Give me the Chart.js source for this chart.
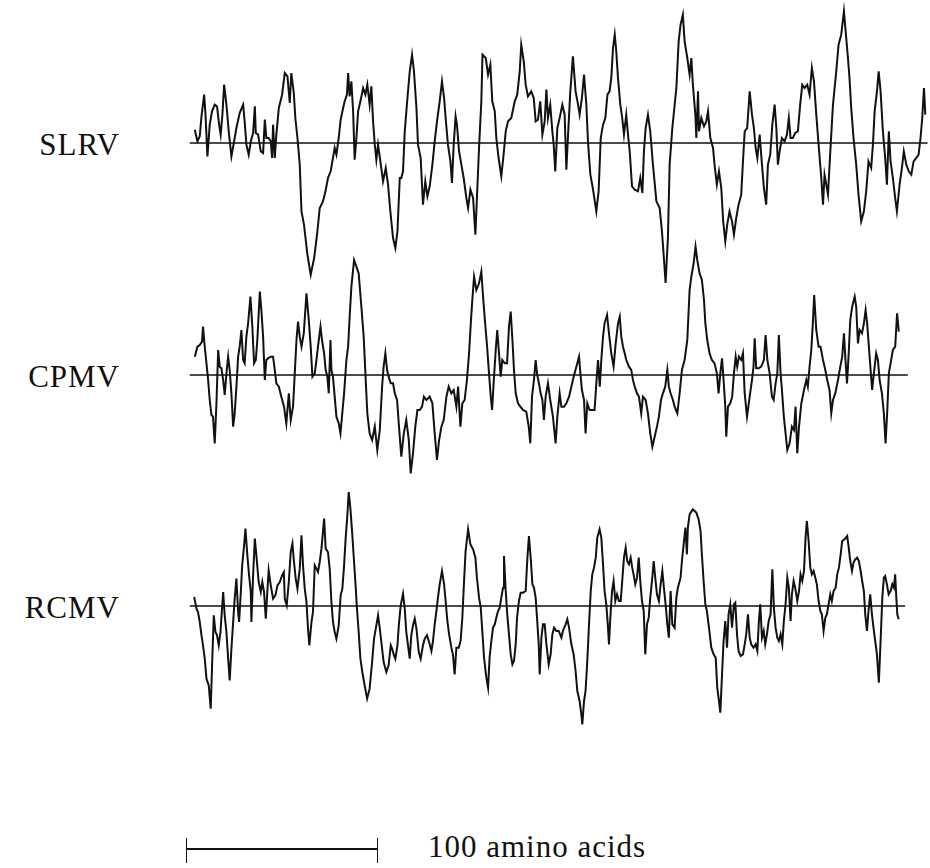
<!DOCTYPE html>
<html>
<head>
<meta charset="utf-8">
<script src="https://cdn.jsdelivr.net/npm/chart.js@4.4.1/dist/chart.umd.min.js"></script>
<style>
  html, body { margin: 0; padding: 0; background: #fff; }
  #page { position: relative; width: 930px; height: 868px; overflow: hidden; background: #fff; }
  .track { position: absolute; left: 189px; width: 739px; height: 294px; }
  .name { position: absolute; width: 120px; left: 0; text-align: right; font: 31px "Liberation Serif", "DejaVu Serif", serif; line-height: 31px; letter-spacing: 1px; color: #111; }
  #scaleText { position: absolute; left: 428px; top: 831px; font: 31px "Liberation Serif", "DejaVu Serif", serif; line-height: 31px; letter-spacing: 1px; color: #111; white-space: nowrap; }
  .bar { position: absolute; background: #111; }
</style>
</head>
<body>
<div id="page">
  <canvas id="cSLRV" class="track" width="739" height="294" style="top:-4px"></canvas>
  <canvas id="cCPMV" class="track" width="739" height="294" style="top:228px"></canvas>
  <canvas id="cRCMV" class="track" width="739" height="294" style="top:459px"></canvas>
  <div class="name" style="top:129px">SLRV</div>
  <div class="name" style="top:361px">CPMV</div>
  <div class="name" style="top:592px">RCMV</div>
  <div class="bar" style="left:186px; top:848px; width:192px; height:2px"></div>
  <div class="bar" style="left:186px; top:838px; width:1px; height:25px"></div>
  <div class="bar" style="left:377px; top:838px; width:1px; height:25px"></div>
  <div id="scaleText">100 amino acids</div>
</div>
<script>
// hydropathy profiles: [residue position, hydropathy]
var slrv = [[0,0.4],[1.4,0.05],[2.6,0.2],[3.5,0.8],[4.9,1.45],[5.6,0.85],[6.6,-0.4],[7.8,0.55],[9.0,0.95],[10.4,1.15],[11.6,1.1],[12.7,0.55],[13.5,0.25],[14.4,0.85],[15.3,1.75],[16.5,1.15],[17.7,0.35],[19.1,-0.4],[20.5,0.05],[21.7,0.45],[23.4,0.9],[25.2,1.15],[26.0,0.65],[26.9,-0.05],[28.1,-0.35],[29.2,0.05],[30.4,0.3],[31.3,1.1],[31.8,0.3],[33.0,0.25],[34.4,-0.25],[35.6,-0.3],[36.5,0.7],[37.3,0.15],[38.5,0.15],[39.6,0.05],[40.3,-0.45],[40.8,0.55],[41.7,-0.45],[42.5,0.25],[43.8,1.05],[45.5,1.45],[46.9,2.1],[48.3,2.0],[49.5,1.2],[50.3,2.1],[51.6,1.5],[52.4,0.75],[53.5,0.15],[54.7,-0.65],[55.6,-2.05],[56.9,-2.45],[58.7,-3.35],[60.4,-3.95],[62.2,-3.45],[63.9,-2.65],[65.1,-1.95],[66.8,-1.75],[68.1,-1.45],[69.4,-1.05],[70.8,-0.85],[72.0,-0.45],[72.9,-0.15],[73.8,-0.35],[75.0,0.15],[76.0,0.7],[77.3,1.05],[78.1,1.25],[79.3,1.45],[79.9,2.1],[80.7,1.4],[81.6,1.85],[82.5,0.95],[83.3,-0.5],[84.2,0.15],[85.1,0.95],[86.3,1.25],[87.7,1.65],[88.9,1.45],[89.9,1.75],[91.1,1.15],[92.0,1.7],[92.9,0.65],[93.8,-0.05],[94.6,-0.5],[95.5,-0.05],[96.7,-0.55],[98.1,-1.15],[99.5,-0.75],[100.7,-1.25],[101.9,-2.05],[103.3,-2.85],[104.5,-3.15],[105.6,-2.65],[106.8,-1.05],[107.6,-1.05],[108.5,-0.85],[109.4,0.35],[110.8,1.35],[112.0,2.15],[113.2,2.65],[114.2,2.15],[115.5,1.05],[116.3,-0.05],[117.7,-0.45],[118.9,-1.85],[120.1,-1.15],[121.2,-1.6],
  [122.4,-1.3],[123.8,-0.65],[125.0,0.05],[126.2,0.65],[127.6,1.25],[128.8,1.85],[129.9,1.35],[130.7,0.75],[131.9,-0.05],[133.2,-0.55],[134.0,-1.2],[134.9,-0.05],[135.9,0.8],[136.6,0.55],[137.7,-0.25],[138.9,-0.65],[140.1,-1.05],[141.5,-1.65],[142.4,-1.95],[143.6,-1.4],[145.0,-1.65],[146.2,-2.75],[147.0,-1.65],[148.1,-0.15],[149.3,1.25],[149.9,2.65],[151.6,2.55],[152.8,2.05],[154.0,2.35],[155.0,1.25],[156.3,0.95],[157.1,0.15],[158.3,-0.45],[159.7,-1.0],[160.9,-0.35],[162.0,0.35],[163.2,0.65],[164.9,0.75],[166.7,1.25],[168.0,1.45],[169.3,2.15],[170.1,2.95],[171.4,2.45],[172.4,1.75],[173.6,1.4],[175.3,1.55],[176.6,1.35],[177.6,0.65],[178.8,0.7],[180.0,1.25],[181.1,0.25],[182.3,0.65],[183.2,1.6],[184.0,0.75],[185.2,1.15],[186.3,0.35],[187.0,-0.05],[187.8,-0.85],[188.9,0.45],[190.1,0.75],[191.5,1.15],[192.7,0.85],[193.6,-0.8],[194.4,0.15],[195.6,1.5],[197.0,2.6],[198.4,1.55],[199.7,1.15],[200.5,0.85],[201.7,1.35],[202.8,2.05],[204.0,1.15],[204.9,0],[206.1,-0.95],[207.5,-1.4],[209.2,-2.05],[210.4,-1.45],[211.5,0.15],[212.7,0.55],[213.9,0.75],[215.0,1.45],[216.1,1.55],[217.0,1.95],[217.9,2.85],[218.8,3.25],[219.6,2.75],[220.5,1.95],[221.7,1.15],[222.7,0.75],[223.6,0.25],[224.8,0.85],[225.7,0.25],[226.6,-0.25],[227.8,-1.3],[229.2,-1.4],[230.9,-1.45],[232.1,-1.05],[233.2,-1.5],[234.0,-0.25],[234.9,0.45],[236.1,0.85],[237.3,0.35],[238.7,-0.65],[240.5,-1.75],[242.2,-1.95],[243.4,-2.65],[244.4,-3.45],[245.3,-4.2],[246.5,-2.85],[247.4,-0.65],[248.8,0.45],
  [250.9,1.65],[252.1,3.05],[253.1,3.55],[254.3,3.85],[255.2,3.05],[256.6,2.55],[257.8,2.05],[258.7,2.55],[259.5,1.75],[260.8,0.85],[261.3,0.15],[262.2,1.55],[262.7,0.35],[263.9,0.75],[265.3,0.5],[266.5,0.65],[267.4,0.95],[268.6,0.15],[270.0,-0.15],[270.8,-0.65],[272.0,-1.25],[273.1,-0.85],[274.3,-1.35],[275.3,-2.35],[276.4,-2.95],[277.4,-2.45],[278.6,-2.05],[279.9,-2.35],[280.9,-2.75],[282.1,-2.25],[283.3,-1.85],[284.7,-1.55],[285.6,-0.55],[286.5,0.35],[287.8,0.45],[289.1,1.55],[290.3,0.85],[291.3,0.45],[292.2,-0.15],[293.1,-0.45],[294.3,0.25],[295.5,-0.65],[296.5,-1.35],[297.7,-1.85],[298.6,-0.65],[299.8,-0.35],[300.9,0.55],[302.1,1.15],[303.0,0.45],[303.8,-0.65],[304.7,-0.25],[305.9,0.15],[307.3,0.05],[308.5,0.25],[309.5,0.75],[310.4,0.15],[311.6,0.15],[312.8,0.3],[314.2,0.35],[315.4,1.15],[316.5,1.75],[317.7,1.65],[319.1,1.75],[320.3,1.45],[321.5,2.25],[322.6,1.85],[323.8,0.85],[325.0,-0.05],[326.4,-1.05],[327.3,-1.85],[328.1,-0.95],[329.0,-1.25],[329.9,-1.55],[331.1,-0.25],[332.5,1.15],[334.2,2.15],[335.4,2.95],[336.8,3.25],[338.2,3.95],[339.4,3.15],[340.3,2.55],[341.1,1.95],[342.0,1.05],[343.2,0.15],[344.6,-0.65],[345.8,-1.55],[347.2,-2.35],[348.6,-2.05],[349.8,-1.45],[351.0,-0.55],[352.4,-0.75],[353.3,-0.05],[354.2,0.95],[355.4,1.55],[356.3,2.15],[357.3,1.55],[358.5,0.35],[359.7,-0.45],[360.6,-1.25],[361.6,0.35],[362.5,-0.55],[363.7,-1.05],[364.9,-1.65],[365.8,-2.05],[367.2,-1.25],[368.4,-0.75],[369.4,-0.25],[370.7,-0.65],[372.0,-0.85],[373.3,-0.95],[374.5,-0.55],[375.9,-0.45],[377.1,-0.35],[378.1,0.15],[379.0,0.75],[379.9,1.65],[380.6,0.85]];

var cpmv = [[0,0.55],[1.4,0.85],[2.6,0.9],[3.8,1.0],[4.3,1.45],[5.2,0.85],[6.1,0.35],[6.9,-0.1],[7.8,-0.75],[8.7,-1.2],[9.5,-1.25],[10.4,-2.05],[11.3,-0.85],[12.2,0.75],[13.0,0.25],[13.9,0.2],[14.8,-0.15],[15.6,-0.6],[16.5,0.05],[17.4,0.55],[18.2,0.15],[19.1,-0.55],[20.0,-1.55],[20.8,-1.15],[21.7,-0.35],[22.6,0.55],[23.4,0.85],[24.3,1.35],[25.2,0.45],[26.0,0.35],[26.9,1.15],[27.8,1.55],[29.0,2.35],[30.0,1.45],[30.9,0.35],[31.8,0.45],[32.6,1.05],[33.9,2.5],[34.7,1.95],[35.6,1.15],[36.5,-0.15],[37.3,0.45],[38.2,0.5],[39.6,0.55],[40.8,0.55],[41.7,0.15],[42.5,-0.25],[43.8,-0.35],[45.1,-0.65],[46.5,-0.95],[47.7,-1.45],[49.0,-0.55],[50.0,-1.35],[51.2,-0.95],[52.1,0.05],[53.0,1.05],[53.8,1.6],[54.7,1.15],[55.6,0.85],[56.8,1.25],[58.2,2.45],[59.4,1.65],[60.4,0.85],[61.3,-0.05],[62.5,0.05],[63.4,0.45],[64.2,0.85],[65.5,1.45],[66.3,1.05],[67.4,0.65],[68.2,0.15],[69.1,-0.05],[69.8,-0.55],[70.7,1.05],[71.2,0.15],[72.0,-0.05],[72.9,-0.65],[73.8,-1.25],[75.0,-1.45],[75.9,-1.75],[76.7,-1.25],[77.8,-0.55],[79.0,0.45],[79.9,0.85],[80.7,1.75],[81.6,2.65],[83.0,3.45],[84.2,3.25],[85.4,3.05],[86.8,2.05],[88.0,1.15],[88.9,0.05],[89.9,-1.15],[91.1,-1.75],[92.4,-1.95],[93.8,-1.55],[95.1,-2.25],[96.4,-1.65],[97.6,-0.35],[98.4,0.25],[99.3,0.65],[100.2,0.15],[101.0,-0.05],[102.1,-0.25],[103.3,-0.25],[104.2,-0.55],[105.4,-0.75],[106.4,-1.55],[107.6,-2.45],[108.9,-1.75],[110.2,-1.35],[111.5,-1.95],[112.5,-2.95],[113.7,-2.35],[114.9,-1.55],[116.0,-1.05],[117.2,-1.05],[118.4,-0.95],[119.4,-0.65],[120.7,-0.75],
  [122.4,-0.65],[123.8,-0.85],[125.0,-1.75],[126.2,-2.55],[127.3,-1.95],[128.5,-1.55],[129.7,-1.35],[131.1,-0.65],[132.3,-0.35],[133.7,-0.55],[134.9,-0.45],[136.3,-0.95],[137.2,-0.35],[138.4,-1.55],[139.4,-0.85],[140.6,-0.75],[141.8,-0.15],[142.9,0.65],[143.8,1.55],[144.6,2.25],[145.5,2.95],[146.7,2.55],[148.1,2.75],[149.3,3.1],[150.2,2.35],[151.0,1.75],[152.3,0.85],[153.3,0.05],[154.2,-0.65],[154.9,-1.05],[155.7,-0.25],[156.8,0.75],[157.6,1.35],[158.5,0.65],[159.4,-0.05],[160.2,0.45],[161.5,0.35],[162.7,0.35],[163.7,1.45],[164.6,1.9],[165.5,1.05],[166.3,0.15],[167.2,-0.55],[168.4,-0.85],[169.6,-0.95],[171.0,-1.05],[172.7,-1.1],[174.0,-1.55],[174.8,-2.05],[175.7,-0.65],[176.7,-0.15],[177.6,0.45],[178.3,0.05],[179.3,-0.25],[180.2,-0.55],[181.1,-0.75],[181.9,-1.35],[182.8,-0.65],[184.0,-0.25],[185.2,-0.75],[186.6,-1.25],[188.0,-2.05],[188.9,-1.25],[190.1,-0.55],[191.0,-0.95],[192.4,-0.95],[193.6,-0.85],[195.0,-0.65],[196.2,-0.35],[197.4,-0.05],[198.8,0.25],[200.2,0.55],[200.9,0.05],[201.7,-0.45],[202.8,-0.75],[203.6,-1.75],[204.5,-0.85],[205.7,-1.05],[207.1,-1.05],[208.3,-1.05],[209.2,-0.25],[210.1,0.45],[211.0,-0.35],[211.8,0.45],[212.7,1.15],[213.5,1.55],[214.8,1.8],[215.8,1.25],[217.0,0.65],[218.2,0.25],[219.3,0.95],[220.5,1.55],[221.4,1.75],[222.2,1.15],[223.1,0.85],[224.0,0.65],[224.8,0.45],[226.2,0.25],[227.4,0.15],[228.3,-0.15],[229.2,-0.35],[230.4,-0.55],[231.4,-0.65],[232.6,-1.15],[233.5,-0.65],[234.9,-0.75],[236.1,-1.15],[237.3,-1.75],[238.4,-2.15],[239.6,-1.85],[240.8,-1.55],[241.8,-1.25],[242.9,-0.75],[243.9,-0.55],[245.1,-0.35],[246.2,0.15],[247.0,-0.35],[247.9,-0.55],[249.1,-0.75],
  [250.0,-0.95],[251.4,-1.15],[252.6,-0.55],[253.8,0.15],[255.2,0.45],[256.6,1.05],[257.8,2.55],[258.7,2.95],[259.9,3.35],[260.9,3.85],[261.8,3.45],[263.0,3.05],[264.2,2.85],[265.3,2.25],[266.0,1.55],[267.0,1.05],[268.2,0.65],[269.4,0.45],[270.8,0.35],[272.0,0.05],[272.9,-0.55],[273.8,0.05],[274.7,0.5],[275.5,-0.15],[276.4,-0.95],[276.9,-1.85],[277.8,-0.95],[279.0,-0.85],[280.0,-0.65],[280.9,0.05],[281.8,0.55],[282.6,0.25],[283.5,0.55],[284.7,0.45],[285.6,0.65],[286.5,-0.55],[287.7,-1.25],[289.1,-0.65],[290.3,-0.15],[291.1,0.25],[291.7,1.1],[292.5,0.2],[293.8,0.2],[295.1,0.25],[296.5,0.45],[297.4,1.2],[298.3,0.45],[299.5,0.05],[300.7,-0.65],[301.6,-0.75],[302.6,-0.25],[303.5,0.05],[304.3,1.2],[305.2,0.05],[305.9,-0.45],[306.9,-1.25],[307.8,-1.75],[308.7,-2.25],[309.9,-2.05],[311.1,-1.55],[312.2,-1.65],[313.0,-0.95],[313.9,-2.35],[314.8,-1.55],[316.0,-0.85],[317.4,-0.45],[318.6,-0.15],[319.4,-0.35],[320.3,0.25],[321.2,0.75],[322.0,1.55],[322.7,2.4],[323.8,1.35],[325.0,0.85],[326.0,0.85],[327.3,0.45],[328.5,0.15],[329.5,-0.15],[330.7,-0.45],[331.6,-1.15],[332.5,-0.75],[333.7,-0.55],[335.1,-0.15],[336.3,0.25],[337.3,0.55],[338.2,1.25],[338.9,0.55],[339.8,-0.25],[340.6,0.55],[341.5,1.65],[342.5,2.05],[343.8,2.35],[344.6,2.05],[345.5,0.95],[346.4,1.35],[347.6,1.25],[348.6,1.55],[349.5,1.95],[350.3,1.55],[351.2,0.85],[352.1,0.15],[352.9,-0.45],[353.8,0.05],[355.0,0.65],[355.9,0.45],[356.8,-0.15],[358.0,-0.55],[359.0,-1.15],[359.9,-2.05],[360.8,-1.05],[361.6,0.05],[362.5,0.35],[363.7,0.75],[364.9,0.85],[365.9,1.85],[366.8,1.3]];

var rcmv = [[-0.3,0.27],[0.9,-0.08],[1.7,-0.18],[2.6,-0.48],[3.5,-0.88],[4.3,-1.18],[5.2,-1.58],[6.1,-2.18],[7.3,-2.38],[8.3,-3.08],[9.2,-1.48],[9.9,-0.28],[10.8,-0.78],[11.6,-0.88],[12.5,-1.18],[13.4,-0.78],[14.2,-0.08],[14.8,0.42],[15.6,-0.28],[16.5,-0.78],[17.4,-1.58],[18.2,-2.23],[19.1,-1.28],[20.0,-0.48],[20.8,0.22],[21.7,0.82],[22.6,-0.18],[23.1,-0.48],[24.0,0.42],[24.7,1.22],[25.7,1.82],[26.4,2.32],[27.4,1.52],[28.3,0.92],[29.2,0.42],[29.5,-0.48],[30.4,0.92],[31.3,2.02],[32.1,1.52],[33.3,0.72],[34.4,0.42],[35.2,0.72],[36.1,0.42],[37.0,-0.38],[37.8,0.42],[38.5,1.07],[39.6,0.62],[40.8,0.22],[42.0,0.32],[43.1,0.62],[44.3,0.72],[45.5,0.92],[46.4,1.02],[46.9,0.22],[47.9,0.02],[49.0,0.72],[50.0,1.62],[50.9,1.87],[51.7,1.32],[52.6,0.82],[53.5,0.52],[54.7,1.12],[55.6,2.12],[56.4,1.22],[57.3,0.52],[58.2,0.12],[59.0,-0.68],[59.7,-1.18],[60.8,-0.48],[61.6,-0.18],[62.5,1.22],[63.4,1.12],[64.2,1.02],[65.1,1.32],[66.0,1.72],[67.4,2.62],[68.2,1.72],[69.4,1.62],[70.3,1.12],[71.2,0.12],[72.0,-0.48],[72.9,-0.78],[73.8,-0.98],[75.0,-0.58],[76.0,0.32],[76.9,0.52],[77.8,1.22],[78.6,2.02],[79.5,2.72],[80.2,3.42],[81.1,2.92],[82.1,2.12],[83.0,1.32],[83.9,0.52],[84.5,-0.08],[85.4,-0.78],[86.3,-1.58],[87.3,-1.98],[88.5,-2.38],[89.8,-2.78],[91.1,-2.48],[92.4,-1.68],[93.4,-0.98],[94.6,-0.58],[95.5,-0.28],[96.4,-0.68],[97.2,-1.08],[98.4,-1.68],[99.8,-1.98],[101.0,-1.78],[102.1,-1.18],[102.8,-1.28],[103.8,-1.48],[104.5,-1.58],[105.6,-1.18],[106.3,-0.58],[107.3,0.02],[108.5,0.37],[109.4,-0.08],[110.2,-0.78],[111.1,-1.18],[112.0,-1.58],[112.8,-0.88],[113.7,-0.58],[114.6,-0.38],[115.5,-0.68],[116.7,-1.38],[117.7,-1.58],[118.9,-1.18],[119.8,-0.98],[121.0,-0.88],
  [122.4,-1.15],[123.3,-1.35],[124.1,-1.05],[125.0,-0.55],[125.9,-0.15],[126.7,0.25],[127.6,0.65],[128.8,1.05],[129.9,0.65],[130.7,0.15],[131.6,-0.45],[132.5,-0.85],[133.7,-1.25],[134.5,-1.45],[135.4,-2.05],[136.3,-1.25],[137.5,-1.25],[138.5,-1.05],[139.4,-0.35],[140.3,0.75],[141.1,1.65],[142.4,2.3],[143.6,1.85],[145.0,1.7],[146.2,1.45],[147.0,0.85],[148.1,0.25],[149.0,-0.05],[149.8,-0.75],[150.7,-1.55],[151.9,-2.15],[152.8,-2.45],[153.6,-1.55],[154.5,-1.05],[155.4,-0.65],[156.3,-0.55],[157.1,-0.35],[158.0,-0.15],[158.9,-0.05],[159.7,0.25],[160.6,0.55],[161.1,1.5],[162.0,0.45],[162.8,-0.25],[163.7,-0.85],[164.6,-1.45],[165.5,-1.75],[166.3,-1.65],[167.2,-1.15],[167.9,-0.35],[168.9,0.15],[169.8,0.4],[171.0,0.4],[172.4,0.45],[173.3,1.45],[174.1,2.1],[175.0,1.45],[175.9,0.65],[176.7,0.55],[177.6,0.25],[178.3,-0.35],[179.2,-1.15],[179.7,-2.05],[180.6,-0.95],[181.4,-0.55],[182.3,-0.55],[183.2,-1.15],[184.4,-1.75],[185.4,-1.45],[186.3,-0.85],[187.2,-0.65],[188.4,-0.75],[189.6,-0.75],[191.0,-0.95],[191.8,-0.75],[193.2,-0.55],[194.1,-0.4],[195.0,-0.65],[196.2,-1.15],[197.4,-1.45],[198.4,-1.95],[199.3,-2.55],[200.5,-2.85],[201.4,-3.25],[201.9,-3.55],[202.8,-2.85],[203.6,-2.55],[204.5,-1.65],[205.4,-0.55],[206.3,0.45],[207.1,0.95],[208.0,1.15],[208.9,1.45],[209.7,2.05],[210.9,2.3],[211.8,2.05],[212.7,1.25],[213.5,0.45],[214.4,0.05],[215.3,-0.65],[215.8,-1.15],[216.5,-0.35],[217.4,0.45],[218.2,0.75],[219.1,0.15],[220.0,0.35],[221.0,0.15],[221.9,0.15],[222.7,0.75],[223.6,1.45],[224.5,1.75],[225.3,1.35],[226.2,1.25],[227.1,1.45],[227.9,1.15],[228.6,0.95],[229.5,0.65],[230.4,0.85],[231.3,1.45],[232.1,0.75],[233.0,0.15],[233.9,-0.15],[234.7,-1.45],[235.6,-0.55],[236.5,-0.35],[237.3,0.25],[238.2,0.75],[239.1,1.35],[239.9,0.85],[240.8,0.35],[241.8,0.15],[242.7,0.65],[243.6,1.05],[244.4,0.55],[245.3,0.05],[246.2,-0.55],[247.0,-0.95],[247.9,0.45],[248.8,-0.55],
  [250.0,-0.65],[250.9,0.25],[251.7,0.55],[253.1,0.85],[253.8,1.35],[254.7,1.85],[255.6,2.35],[256.4,1.55],[256.9,2.35],[257.8,2.75],[259.5,2.9],[261.3,2.8],[262.5,2.6],[263.5,2.25],[264.2,1.55],[265.1,0.75],[266.0,0.05],[266.8,-0.15],[267.9,-0.65],[269.1,-1.25],[270.3,-1.45],[271.4,-1.55],[272.2,-2.45],[273.1,-2.85],[273.8,-3.2],[274.7,-2.05],[275.5,-1.05],[276.4,-0.45],[277.3,-1.25],[278.1,-0.25],[279.0,0.05],[279.9,-0.65],[280.9,0.05],[281.6,0.1],[282.5,-0.85],[283.3,-1.35],[284.4,-1.5],[285.6,-1.45],[286.5,-1.15],[287.3,-0.85],[288.2,-0.25],[289.1,-0.95],[289.9,-1.15],[291.1,-1.25],[292.2,-1.15],[293.1,-1.35],[293.9,-0.45],[294.6,0.05],[295.5,-0.95],[296.4,-0.75],[297.2,-1.15],[298.1,-0.85],[299.0,-0.45],[300.0,-0.25],[300.9,1.1],[301.7,-0.05],[302.6,-0.65],[303.5,-0.95],[304.3,-1.05],[305.2,-0.85],[306.1,-1.15],[306.9,-0.45],[307.8,0.05],[308.7,0.85],[309.5,0.55],[310.4,-0.45],[311.1,0.35],[312.0,0.75],[312.8,0.55],[313.9,0.15],[314.8,0.45],[315.6,0.95],[316.5,0.75],[317.4,1.05],[318.2,2.05],[318.9,2.55],[319.8,1.95],[320.7,1.15],[321.5,0.95],[322.4,1.05],[323.3,0.85],[324.1,0.65],[325.0,0.15],[325.9,-0.15],[326.7,-0.25],[327.6,-0.75],[328.5,-0.35],[329.3,-0.25],[330.2,0.05],[331.1,0.35],[331.9,0.15],[332.8,0.45],[333.9,0.55],[334.7,0.95],[335.6,1.15],[336.5,1.55],[337.3,1.95],[338.5,2.0],[339.9,2.1],[340.6,1.8],[341.5,1.35],[342.4,1.05],[343.2,1.3],[344.1,1.4],[345.1,1.45],[346.0,1.35],[346.9,1.05],[347.7,0.75],[348.6,0.45],[349.3,-0.25],[350.2,-0.75],[351.0,-0.15],[351.9,0.35],[352.8,-0.25],[353.6,-0.65],[354.5,-1.05],[355.4,-1.45],[356.4,-2.3],[357.3,-1.05],[358.2,0.25],[359.0,0.85],[359.7,0.9],[360.6,0.65],[361.5,0.35],[362.5,0.45],[363.4,0.65],[364.2,0.55],[364.9,0.95],[365.5,0.25],[366.0,-0.25],[366.7,-0.4]];

// extent of the zero line under each profile (residues)
var slrvZero = [-2.6, 381.8];
var cpmvZero = [-2.6, 371.5];
var rcmvZero = [-2.6, 370.1];

var residueMin = -3, residueMax = 382;
var hydroMin = -4.41, hydroMax = 4.41;

function pts(list) {
  return list.map(function (p) { return { x: p[0], y: p[1] }; });
}

function drawTrack(id, profile, zero) {
  new Chart(document.getElementById(id), {
    type: "scatter",
    data: {
      datasets: [{
        data: pts(profile),
        showLine: true,
        borderColor: "#111",
        borderWidth: 2,
        pointRadius: 0,
        tension: 0
      }, {
        data: zero.map(function (x) { return { x: x, y: 0 }; }),
        showLine: true,
        borderColor: "#111",
        borderWidth: 1.6,
        pointRadius: 0
      }]
    },
    options: {
      responsive: false,
      animation: false,
      devicePixelRatio: 1,
      events: [],
      layout: { padding: 0 },
      plugins: { legend: { display: false }, tooltip: { enabled: false } },
      scales: {
        x: { type: "linear", min: residueMin, max: residueMax, display: false },
        y: { type: "linear", min: hydroMin, max: hydroMax, display: false }
      }
    }
  });
}

drawTrack("cSLRV", slrv, slrvZero);
drawTrack("cCPMV", cpmv, cpmvZero);
drawTrack("cRCMV", rcmv, rcmvZero);
</script>
</body>
</html>
